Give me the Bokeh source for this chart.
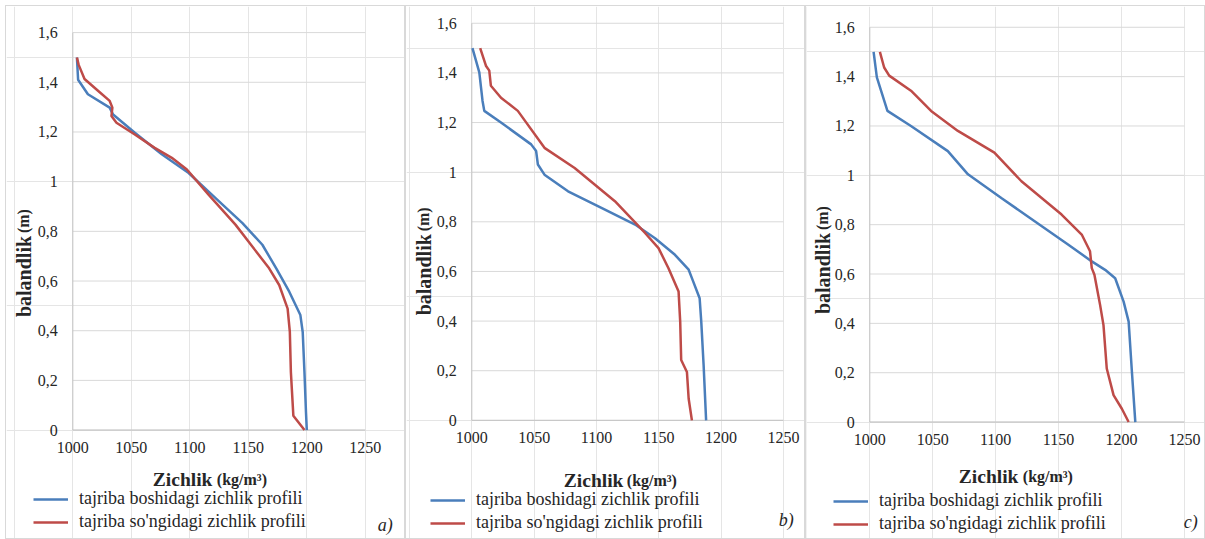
import numpy as np
from bokeh.plotting import figure
from bokeh.layouts import row, column
from bokeh.models import Range1d, Legend, LegendItem, Spacer
from bokeh.core.properties import value
from bokeh.embed import file_html
from bokeh.resources import INLINE

# ---- data -------------------------------------------------------------
density_ticks = [1000, 1050, 1100, 1150, 1200, 1250]
height_ticks = [0, 0.2, 0.4, 0.6, 0.8, 1.0, 1.2, 1.4, 1.6]
density_labels = ["1000", "1050", "1100", "1150", "1200", "1250"]
height_labels = ["0", "0,2", "0,4", "0,6", "0,8", "1", "1,2", "1,4", "1,6"]

# panel a
a_start_rho = [1003.5, 1004.5, 1012.9, 1031.5, 1034.4, 1053, 1076, 1099, 1122,
               1145, 1162, 1174, 1185, 1194.5, 1196.5, 1198, 1199.3, 1200]
a_start_h = [1.50, 1.41, 1.352, 1.298, 1.27, 1.197, 1.11, 1.035, 0.934,
             0.833, 0.746, 0.65, 0.557, 0.463, 0.395, 0.233, 0.072, 0.0]
a_end_rho = [1003.5, 1005, 1010, 1021.5, 1031.5, 1033.8, 1033, 1037.3, 1053,
             1070, 1084.6, 1097.5, 1116, 1139, 1167.8, 1176.4, 1183.6, 1185.5,
             1186.4, 1188.5, 1198]
a_end_h = [1.50, 1.47, 1.413, 1.366, 1.325, 1.298, 1.264, 1.237, 1.19,
           1.136, 1.096, 1.049, 0.948, 0.827, 0.651, 0.584, 0.489, 0.395,
           0.233, 0.058, 0.0]

# panel b
b_start_rho = [1000.5, 1006, 1008.6, 1010, 1023.4, 1047.6, 1051.6, 1053, 1058.3,
               1077.2, 1104, 1131, 1147, 1163, 1174, 1176.6, 1182.8, 1184.1,
               1186, 1188]
b_start_h = [1.50, 1.402, 1.287, 1.247, 1.20, 1.112, 1.085, 1.031, 0.99,
             0.923, 0.856, 0.789, 0.734, 0.667, 0.607, 0.573, 0.492, 0.398,
             0.222, 0.0]
b_end_rho = [1006.7, 1011.3, 1014, 1015.3, 1023.4, 1036.9, 1058.3, 1082.5,
             1114.8, 1139, 1149.8, 1157.8, 1165.9, 1167.2, 1168, 1172.6, 1174,
             1176.6]
b_end_h = [1.50, 1.429, 1.409, 1.348, 1.30, 1.247, 1.098, 1.017, 0.883, 0.755,
           0.694, 0.613, 0.519, 0.398, 0.243, 0.195, 0.087, 0.0]

# panel c
c_start_rho = [1003, 1005.6, 1014, 1032.7, 1062, 1078, 1104.5, 1131, 1157.8,
               1176.4, 1187, 1195, 1201.7, 1205.7, 1208.3, 1211]
c_start_h = [1.50, 1.397, 1.261, 1.20, 1.098, 1.004, 0.908, 0.814, 0.719,
             0.651, 0.617, 0.583, 0.488, 0.407, 0.203, 0.0]
c_end_rho = [1008, 1011.4, 1015.4, 1032.7, 1048.7, 1070, 1099, 1120.5, 1152.4,
             1168.4, 1175, 1176.4, 1178.5, 1183, 1185.7, 1188.3, 1193.7, 1200.3,
             1205.7]
c_end_h = [1.50, 1.437, 1.404, 1.343, 1.261, 1.18, 1.092, 0.976, 0.841, 0.76,
           0.692, 0.624, 0.597, 0.475, 0.393, 0.217, 0.109, 0.054, 0.0]

legend_labels = ["tajriba boshidagi zichlik profili",
                 "tajriba so'ngidagi zichlik profili"]
panel_tags = ["a)", "b)", "c)"]
y_title = "balandlik"
y_unit = "(m)"
x_title = "Zichlik"
x_unit = "(kg/m\u00b3)"

# ---- styling ----------------------------------------------------------
SERIF = "Liberation Serif"
BLUE = "#4a7ebb"
RED = "#be4b48"
TEXT = "#262626"
GRID = "#d9d9d9"
AXIS = "#c4c4c4"
FIG_W, FIG_H = 400, 534          # each panel incl. its 1px border
CW, CH = FIG_W - 2, FIG_H - 2    # drawing area inside the border
X0, X1 = 1000, 1250
Y0, Y1 = 0, 1.6

# plot-area margins inside each panel (px) and text offsets (px) measured
# from the plot area's lower-left corner
layouts = [
    dict(L=66, R=41, T=26, B=110,
         ylab=(-49, -113), yunit=(-49, -197), xlab=(80, 49), xunit=(144, 49),
         tag=(305, 95), leg=(27, 8)),
    dict(L=65, R=23, T=16.7, B=119.7,
         ylab=(-48, -105), yunit=(-48, -189), xlab=(92, 60), xunit=(155, 60),
         tag=(307, 100), leg=(24, 7)),
    dict(L=63, R=22, T=20.7, B=118,
         ylab=(-47, -108), yunit=(-47, -192), xlab=(89, 54), xunit=(153, 54),
         tag=(314, 100), leg=(27, 6)),
]

series = [
    (a_start_rho, a_start_h, a_end_rho, a_end_h),
    (b_start_rho, b_start_h, b_end_rho, b_end_h),
    (c_start_rho, c_start_h, c_end_rho, c_end_h),
]


def make_panel(data, lay, tag):
    # ranges padded so that the value window sits at the wanted place
    sx = (CW - lay["L"] - lay["R"]) / (X1 - X0)
    sy = (CH - lay["T"] - lay["B"]) / (Y1 - Y0)
    x_range = Range1d(X0 - lay["L"] / sx, X1 + lay["R"] / sx)
    y_range = Range1d(Y0 - lay["B"] / sy, Y1 + lay["T"] / sy)

    p = figure(width=FIG_W, height=FIG_H, x_range=x_range, y_range=y_range,
               output_backend="svg", toolbar_location=None,
               x_axis_location=None, y_axis_location=None,
               min_border=0, styles={"border": "1px solid #d9d9d9"})
    p.outline_line_color = None
    p.background_fill_color = "white"
    p.border_fill_color = "white"

    n_y = len(height_ticks)
    n_x = len(density_ticks)

    # horizontal grid lines and the two axis lines
    p.segment(x0=[X0] * n_y, y0=height_ticks, x1=[X1] * n_y, y1=height_ticks,
              line_color=GRID, line_width=1)
    p.segment(x0=[X0], y0=[Y0], x1=[X0], y1=[Y1], line_color=AXIS, line_width=1)
    p.segment(x0=[X0], y0=[Y0], x1=[X1], y1=[Y0], line_color=AXIS, line_width=1)

    # tick labels
    p.text(x=[X0] * n_y, y=height_ticks, text=height_labels, x_offset=-15,
           text_align="right", text_baseline="middle", text_font=value(SERIF),
           text_font_size="16px", text_color=TEXT)
    p.text(x=density_ticks, y=[Y0] * n_x, text=density_labels, y_offset=12,
           text_align="center", text_baseline="top", text_font=value(SERIF),
           text_font_size="16px", text_color=TEXT)

    # profiles
    rs, hs, re, he = data
    r_start = p.line(rs, hs, line_color=BLUE, line_width=2.5)
    r_end = p.line(re, he, line_color=RED, line_width=2.5)

    legend = Legend(items=[LegendItem(label=legend_labels[0], renderers=[r_start]),
                           LegendItem(label=legend_labels[1], renderers=[r_end])],
                    location=lay["leg"], orientation="vertical",
                    label_text_font=SERIF, label_text_font_size="18px",
                    label_text_color=TEXT, glyph_width=35, glyph_height=20,
                    label_height=20, label_standoff=11, spacing=2, padding=0,
                    margin=0, border_line_color=None, background_fill_alpha=0)
    p.add_layout(legend)

    def note(text, off, size, style, angle=0.0, baseline="middle"):
        p.text(x=[X0], y=[Y0], text=[text], x_offset=off[0], y_offset=off[1],
               angle=angle, text_align="left", text_baseline=baseline,
               text_font=value(SERIF), text_font_style=style,
               text_font_size=size, text_color=TEXT)

    # axis titles (bold word, smaller unit) and the panel letter
    note(y_title, lay["ylab"], "20px", "bold", angle=np.pi / 2)
    note(y_unit, lay["yunit"], "16px", "bold", angle=np.pi / 2)
    note(x_title, lay["xlab"], "19.5px", "bold", baseline="alphabetic")
    note(x_unit, lay["xunit"], "16px", "bold", baseline="alphabetic")
    note(tag, lay["tag"], "18px", "italic")
    return p


panels = [make_panel(d, lay, t) for d, lay, t in zip(series, layouts, panel_tags)]

page = column(Spacer(height=5),
              row(Spacer(width=5), *panels, spacing=0),
              spacing=0)

open("out.html", "w").write(file_html(page, INLINE))
